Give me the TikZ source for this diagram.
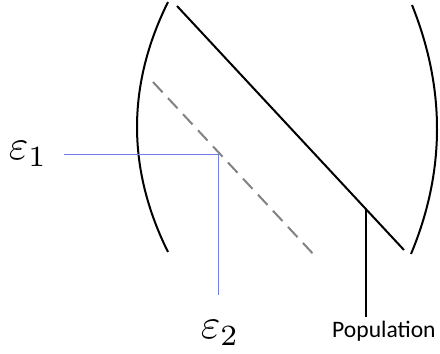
\documentclass[tikz,border=0pt]{standalone}
\usepackage{fontspec}
\usetikzlibrary{calc}
\newfontfamily\labelfont{Carlito}
\definecolor{axisblue}{RGB}{112,124,226}
\definecolor{dashgray}{RGB}{130,130,130}
\begin{document}
\begin{tikzpicture}[x=1pt,y=-1pt,
  bracket/.style={line width=2pt},
  popline/.style={line width=2pt},
  sampleline/.style={line width=2pt, dashgray, dash pattern=on 14pt off 8pt},
  axis/.style={line width=1pt, axisblue},
  eps/.style={scale=4.2, inner sep=0pt},
  poplabel/.style={font=\labelfont\fontsize{23.6}{28}\selectfont, inner sep=0pt, anchor=base west}]
\useasboundingbox (0,0) rectangle (440,354);
% brackets
\coordinate (lt) at (168,2);
\coordinate (lb) at (168,252);
\coordinate (rt) at (412,5);
\coordinate (rb) at (411,254);
\draw[bracket] (lt) .. controls (126.7,85.3) and (126.7,168.7) .. (lb);
\draw[bracket] (rt) .. controls (445.7,88.7) and (445.3,171.7) .. (rb);
% population line
\coordinate (ps) at (177,6);
\coordinate (pe) at (404,250);
\draw[popline] (ps) -- (pe);
\coordinate (pj) at ($(ps)!0.837!(pe)$);
\node[poplabel] (pop) at (332,337) {Population};
\coordinate (pb) at (366,317);
\draw[popline] (pb |- pj) -- (pb);
% sample dashed line
\coordinate (ss) at (153,82);
\coordinate (se) at (316,257);
\draw[sampleline] (ss) -- (se);
% axes
\node[eps] (e1) at (28,154) {$\varepsilon_1$};
\node[eps] (e2) at (220,333) {$\varepsilon_2$};
\coordinate (h0) at (64,154);
\coordinate (corner) at (218,154);
\coordinate (v1) at (218,295);
\draw[axis] (h0) -- (corner) -- (v1);
\end{tikzpicture}
\end{document}
